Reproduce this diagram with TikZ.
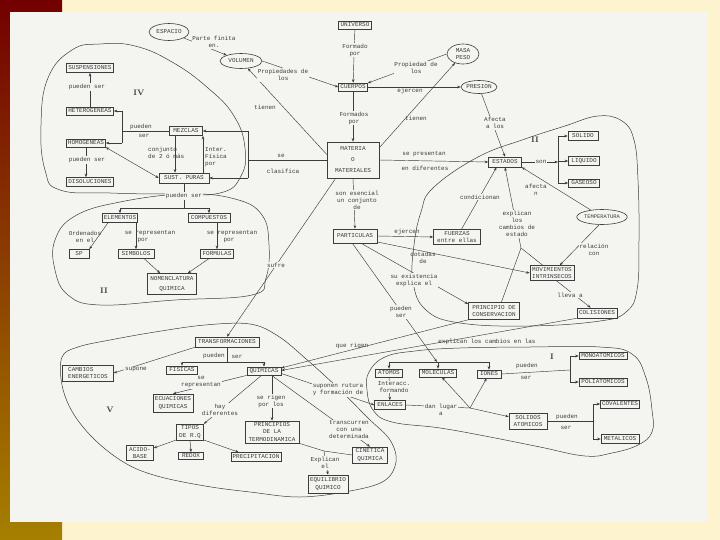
\documentclass[tikz,border=0pt]{standalone}
\usepackage{fontspec}
\setmonofont{Liberation Mono}
\usepackage{tikz}
\usetikzlibrary{shapes.geometric, arrows.meta, calc}

\definecolor{hoja}{HTML}{F4F4F1}
\definecolor{fondo}{HTML}{FDF4CF}
\definecolor{tinta}{HTML}{3C3C3C}

\tikzset{
  caja/.style={draw=tinta, line width=.6pt, fill=hoja, inner sep=1.5pt,
    font=\fontsize{6}{7.5}\selectfont\ttfamily, text=tinta, align=center},
  ovalo/.style={ellipse, draw=tinta, line width=.6pt, fill=hoja, inner sep=0pt,
    font=\fontsize{6}{7.5}\selectfont\ttfamily, text=tinta, align=center},
  rotulo/.style={fill=hoja, inner sep=.8pt, font=\fontsize{6}{7}\selectfont\ttfamily,
    text=tinta, align=center},
  nota/.style={inner sep=0pt, font=\fontsize{6}{7}\selectfont\ttfamily, text=tinta, align=center},
  flecha/.style={draw=tinta, line width=.45pt, -{Stealth[length=3.5pt, width=2.6pt]}},
  doble/.style={draw=tinta, line width=.45pt,
    {Stealth[length=3.5pt, width=2.6pt]}-{Stealth[length=3.5pt, width=2.6pt]}},
  linea/.style={draw=tinta, line width=.45pt},
  zona/.style={draw=tinta, line width=.5pt},
  romano/.style={font=\fontsize{8}{8}\selectfont\bfseries, text=tinta}
}

\begin{document}
\begin{tikzpicture}[x=1pt, y=-1pt]
\useasboundingbox (0,0) rectangle (720,540);
% fondo de la diapositiva y hoja escaneada
\fill[fondo] (0,0) rectangle (720,540);
\shade[top color=red!45!black, middle color=orange!80!red, bottom color=olive!70!orange] (0,0) rectangle (62,540);
\fill[hoja] (10,12) rectangle (708,522);

% zonas
\draw[zona] plot[smooth cycle, tension=.75] coordinates {(72,50) (100,44) (135,46) (172,62) (208,88) (234,116) (245,148) (241,176) (220,193) (170,194) (110,193) (60,190) (45,170) (41,125) (48,78)};
\draw[zona] plot[smooth cycle, tension=.7] coordinates {(55,240) (75,216) (120,202) (185,194) (235,199) (262,215) (269,245) (266,278) (252,295) (175,300) (100,305) (68,295) (55,270)};
\draw[zona] plot[smooth cycle, tension=.7] coordinates {(433,188) (478,157) (525,139) (565,126) (598,116) (622,121) (634,140) (638,180) (639,240) (637,290) (626,312) (600,321) (530,326) (460,323) (426,310) (413,282) (414,245) (421,212)};
\draw[zona] plot[smooth cycle, tension=.6] coordinates {(62,357) (78,347) (110,340) (155,332) (205,325) (250,324) (278,336) (305,358) (338,388) (368,418) (390,440) (396,462) (384,481) (350,491) (300,497) (250,492) (205,486) (157,476) (125,463) (95,440) (73,413) (62,385)};
\draw[zona] plot[smooth cycle, tension=.7] coordinates {(369,372) (385,357) (415,351) (460,348) (530,347) (600,347) (632,354) (646,378) (652,410) (652,432) (638,445) (612,453) (585,456) (540,447) (490,437) (440,428) (392,422) (373,410) (367,390)};

% conceptos
\node[ovalo, minimum width=40pt, minimum height=17pt] (espacio) at (169,32) {ESPACIO};
\node[ovalo, minimum width=42pt, minimum height=15pt] (volumen) at (241,61) {VOLUMEN};
\node[ovalo, minimum width=32pt, minimum height=20pt] (masa) at (463,54) {MASA\\PESO};
\node[ovalo, minimum width=36pt, minimum height=13pt] (presion) at (479,87) {PRESION};
\node[ovalo, minimum width=50pt, minimum height=15pt, font=\fontsize{5.4}{6}\selectfont\ttfamily] (temperatura) at (602,217) {TEMPERATURA};

\node[caja, minimum width=33pt, minimum height=8pt] (universo) at (355,25) {UNIVERSO};
\node[caja, minimum width=29pt, minimum height=8pt] (cuerpos) at (353,87) {CUERPOS};
\node[caja, minimum width=52pt, minimum height=36pt, font=\fontsize{6}{11}\selectfont\ttfamily] (materia) at (353,160) {MATERIA\\O\\MATERIALES};
\node[caja, minimum width=33pt, minimum height=10pt] (estados) at (505,162) {ESTADOS};
\node[caja, minimum width=30pt, minimum height=9pt] (solido) at (583,136) {SOLIDO};
\node[caja, minimum width=31pt, minimum height=9pt] (liquido) at (584,161) {LIQUIDO};
\node[caja, minimum width=31pt, minimum height=8pt] (gaseoso) at (584,183) {GASEOSO};
\node[caja, minimum width=44pt, minimum height=15pt] (movimientos) at (552,273) {MOVIMIENTOS\\INTRINSECOS};
\node[caja, minimum width=40pt, minimum height=10pt] (colisiones) at (597,313) {COLISIONES};
\node[caja, minimum width=51pt, minimum height=17pt] (conservacion) at (494,311) {PRINCIPIO DE\\CONSERVACION};
\node[caja, minimum width=47pt, minimum height=15pt] (fuerzas) at (457,237) {FUERZAS\\entre ellas};
\node[caja, minimum width=44pt, minimum height=14pt] (particulas) at (355,236) {PARTICULAS};

\node[caja, minimum width=47pt, minimum height=9pt] (suspensiones) at (90,68) {SUSPENSIONES};
\node[caja, minimum width=47pt, minimum height=8pt] (heterogeneas) at (90,111) {HETEROGENEAS};
\node[caja, minimum width=39pt, minimum height=8pt] (homogeneas) at (86,143) {HOMOGENEAS};
\node[caja, minimum width=47pt, minimum height=9pt] (disoluciones) at (90,182) {DISOLUCIONES};
\node[caja, minimum width=33pt, minimum height=9pt] (mezclas) at (186,131) {MEZCLAS};
\node[caja, minimum width=50pt, minimum height=10pt] (puras) at (184,178) {SUST. PURAS};

\node[caja, minimum width=35pt, minimum height=9pt] (elementos) at (120,218) {ELEMENTOS};
\node[caja, minimum width=42pt, minimum height=9pt] (compuestos) at (209,218) {COMPUESTOS};
\node[caja, minimum width=20pt, minimum height=9pt] (sp) at (79,254) {SP};
\node[caja, minimum width=36pt, minimum height=9pt] (simbolos) at (136,254) {SIMBOLOS};
\node[caja, minimum width=33pt, minimum height=9pt] (formulas) at (217,254) {FORMULAS};
\node[caja, minimum width=49pt, minimum height=21pt, font=\fontsize{6}{10}\selectfont\ttfamily] (nomenclatura) at (172,284) {NOMENCLATURA\\QUIMICA};

\node[caja, minimum width=64pt, minimum height=10pt] (transformaciones) at (227,342) {TRANSFORMACIONES};
\node[caja, minimum width=51pt, minimum height=16pt, align=left] (energeticos) at (88,373) {CAMBIOS\\ENERGETICOS};
\node[caja, minimum width=31pt, minimum height=8pt] (fisicas) at (182,370) {FISICAS};
\node[caja, minimum width=34pt, minimum height=8pt] (quimicas) at (264,371) {QUIMICAS};
\node[caja, minimum width=40pt, minimum height=18pt] (ecuaciones) at (173,403) {ECUACIONES\\QUIMICAS};
\node[caja, minimum width=27pt, minimum height=14pt] (tipos) at (190,432) {TIPOS\\DE R.Q};
\node[caja, minimum width=27pt, minimum height=14pt] (acidobase) at (140,453) {ACIDO-\\BASE};
\node[caja, minimum width=25pt, minimum height=7pt] (redox) at (191,456) {REDOX};
\node[caja, minimum width=50pt, minimum height=9pt] (precipitacion) at (256,457) {PRECIPITACION};
\node[caja, minimum width=54pt, minimum height=21pt] (termodinamica) at (272,432) {PRINCIPIOS\\DE LA\\TERMODINAMICA};
\node[caja, minimum width=35pt, minimum height=16pt] (cinetica) at (370,455) {CINETICA\\QUIMICA};
\node[caja, minimum width=40pt, minimum height=18pt] (equilibrio) at (328,484) {EQUILIBRIO\\QUIMICO};

\node[caja, minimum width=27pt, minimum height=8pt] (atomos) at (389,373) {ATOMOS};
\node[caja, minimum width=37pt, minimum height=8pt] (moleculas) at (438,373) {MOLECULAS};
\node[caja, minimum width=24pt, minimum height=8pt] (iones) at (489,374) {IONES};
\node[caja, minimum width=31pt, minimum height=9pt] (enlaces) at (390,405) {ENLACES};
\node[caja, minimum width=38pt, minimum height=16pt] (solidosat) at (528,421) {SOLIDOS\\ATOMICOS};
\node[caja, minimum width=48pt, minimum height=7pt] (monoatomicos) at (603,356) {MONOATOMICOS};
\node[caja, minimum width=48pt, minimum height=8pt] (poliatomicos) at (603,382) {POLIATOMICOS};
\node[caja, minimum width=39pt, minimum height=8pt] (covalentes) at (620,404) {COVALENTES};
\node[caja, minimum width=38pt, minimum height=9pt] (metalicos) at (620,439) {METALICOS};

% puntos de reparto
\coordinate (bMat) at (248,160);
\coordinate (bMez) at (122,131);
\coordinate (bPur) at (184,208);
\coordinate (bEst) at (558,162);
\coordinate (bTra) at (227,362);
\coordinate (bPar) at (437,362);
\coordinate (jExp) at (521,248);
\coordinate (jEq) at (324,451);
\coordinate (jEnl) at (470,408);
\coordinate (bIon) at (570,370);
\coordinate (bSol) at (593,421);

% enlaces de arriba
\draw[flecha] (espacio) -- (volumen);
\draw[flecha] (volumen.east) -- (cuerpos.west);
\draw[flecha] (materia.168) -- (volumen);
\draw[flecha] (universo) -- (cuerpos);
\draw[flecha] (masa.west) -- (cuerpos.15);
\draw[flecha] (cuerpos.east) -- (presion.west);
\draw[flecha] (materia.25) -- (masa);
\draw[flecha] (cuerpos) -- (materia);
\draw[flecha] (presion) -- (estados.north);
\draw[flecha] (materia.east) -- (estados.west);
\draw[flecha] (estados.east) -- (bEst);
\draw[linea] (bEst |- solido) -- (bEst |- gaseoso);
\draw[flecha] (bEst |- solido) -- (solido.west);
\draw[flecha] (bEst |- liquido) -- (liquido.west);
\draw[flecha] (bEst |- gaseoso) -- (gaseoso.west);
\draw[flecha] (temperatura) -- (estados.south east);
\draw[flecha] (temperatura.-110) -- (movimientos.45);
\draw[flecha] (fuerzas.60) -- (estados.-148);
\draw[linea] (movimientos.140) -- (jExp);
\draw[linea] (conservacion.50) -- (jExp);
\draw[flecha] (jExp) -- (estados.south);
\draw[flecha] (particulas.east) -- (fuerzas.west);
\draw[flecha] (materia.south) -- (particulas.north);
\draw[flecha] (particulas.-15) -- (movimientos.west);
\draw[flecha] (particulas.-50) -- (conservacion.165);
\draw[flecha] (particulas.-110) -- (bPar);
\draw[linea] (atomos.north |- bPar) -- (iones.north |- bPar);
\draw[flecha] (atomos.north |- bPar) -- (atomos.north);
\draw[flecha] (moleculas.north |- bPar) -- (moleculas.north);
\draw[flecha] (iones.north |- bPar) -- (iones.north);
\draw[flecha] (movimientos.-60) -- (colisiones.140);
\draw[flecha] (colisiones.south west) -- (quimicas.2);
\draw[flecha] (conservacion.south west) -- (quimicas.10);

% mezclas y sustancias
\draw[linea] (materia.west) -- (bMat);
\draw[linea] (bMat |- mezclas) -- (bMat |- puras);
\draw[flecha] (bMat |- mezclas) -- (mezclas.east);
\draw[flecha] (bMat |- puras) -- (puras.east);
\draw[linea] (mezclas.west) -- (bMez);
\draw[linea] (bMez |- heterogeneas) -- (bMez |- homogeneas);
\draw[flecha] (bMez |- heterogeneas) -- (heterogeneas.east);
\draw[flecha] (bMez |- homogeneas) -- (homogeneas.east);
\draw[flecha] (heterogeneas) -- (suspensiones);
\draw[flecha] (homogeneas.south) -- (homogeneas.south |- disoluciones.north);
\draw[flecha] ([xshift=-11pt]mezclas.south) -- ([xshift=-11pt]mezclas.south |- puras.north);
\draw[flecha] ([xshift=17pt]mezclas.south |- puras.north) -- ([xshift=17pt]mezclas.south);
\draw[doble] (puras.west) -- (homogeneas.south east);
\draw[linea] (puras.south) -- (bPur);
\draw[linea] (elementos.north |- bPur) -- (compuestos.north |- bPur);
\draw[flecha] (elementos.north |- bPur) -- (elementos.north);
\draw[flecha] (compuestos.north |- bPur) -- (compuestos.north);
\draw[flecha] ([xshift=6pt]elementos.south west) -- (sp.north east);
\draw[flecha] (elementos.south -| simbolos.north) -- (simbolos.north);
\draw[flecha] (compuestos.south -| formulas.north) -- (formulas.north);
\draw[flecha] (simbolos.-30) -- (nomenclatura);
\draw[flecha] (formulas.-150) -- (nomenclatura);

% transformaciones
\draw[flecha] ([xshift=9pt]materia.south west) -- (transformaciones.north);
\draw[linea] (transformaciones.south) -- (bTra);
\draw[linea] (fisicas.north |- bTra) -- (quimicas.north |- bTra);
\draw[flecha] (fisicas.north |- bTra) -- (fisicas.north);
\draw[flecha] (quimicas.north |- bTra) -- (quimicas.north);
\draw[flecha] (transformaciones.south west) -- (energeticos.east);
\draw[flecha] (quimicas.south west) -- (ecuaciones.north);
\draw[flecha] (quimicas.-120) -- (tipos.north east);
\draw[flecha] (tipos.-150) -- (acidobase.20);
\draw[flecha] (tipos.south) -- (redox.north);
\draw[flecha] (tipos.-30) -- ([xshift=8pt]precipitacion.north west);
\draw[flecha] (quimicas.south -| termodinamica.north) -- (termodinamica.north);
\draw[flecha] (quimicas.-8) -- (enlaces.west);
\draw[flecha] (quimicas.-30) -- (cinetica.north);
\draw[linea] (termodinamica.south east) -- (jEq) -- (cinetica.west);
\draw[flecha] (jEq) -- (equilibrio.north);

% atomos
\draw[flecha] (atomos) -- (enlaces);
\draw[linea] (enlaces.east) -- (jEnl);
\draw[flecha] (jEnl) -- (moleculas);
\draw[flecha] (jEnl) -- (iones);
\draw[flecha] (jEnl) -- (solidosat);
\draw[linea] (iones.east) -- (bIon);
\draw[linea] (bIon |- monoatomicos) -- (bIon |- poliatomicos);
\draw[flecha] (bIon |- monoatomicos) -- (monoatomicos.west);
\draw[flecha] (bIon |- poliatomicos) -- (poliatomicos.west);
\draw[linea] (solidosat.east) -- (bSol);
\draw[linea] (bSol |- covalentes) -- (bSol |- metalicos);
\draw[flecha] (bSol |- covalentes) -- (covalentes.west);
\draw[flecha] (bSol |- metalicos) -- (metalicos.west);

% palabras de enlace
\node[rotulo] (tParte) at (214,42) {Parte finita\\en.};
\node[rotulo] (tPropiedades) at (283,75) {Propiedades de\\los};
\node[nota] (tTienenV) at (265,107) {tienen};
\node[rotulo] (tFormado) at (355,50) {Formado\\por};
\node[rotulo] (tPropiedad) at (416,68) {Propiedad de\\los};
\node[nota] (tEjercenP) at (410,91) {ejercen};
\node[nota] (tTienenM) at (416,118) {tienen};
\node[rotulo] (tFormados) at (354,118) {Formados\\por};
\node[rotulo] (tAfecta) at (495,123) {Afecta\\a los};
\node[nota] (tPresentan) at (424,154) {se presentan};
\node[nota] (tDiferentes) at (425,168) {en diferentes};
\node[rotulo] (tSon) at (541,162) {son};
\node[nota] (tAfectan) at (536,190) {afecta\\n};
\node[rotulo] (tCondicionan) at (480,197) {condicionan};
\node[rotulo] (tExplicanE) at (517,224) {explican\\los\\cambios de\\estado};
\node[rotulo] (tRelacion) at (594,250) {relación\\con};
\node[rotulo] (tLleva) at (570,295) {lleva a};
\node[nota] (tSe) at (281,156) {se};
\node[nota] (tClasifica) at (283,171) {clasifica};
\node[rotulo] (tEsencial) at (357,200) {son esencial\\un conjunto\\de};
\node[nota] (tEjercenF) at (407,232) {ejercen};
\node[nota] (tDotadas) at (423,258) {dotadas\\de};
\node[rotulo] (tExistencia) at (414,280) {su existencia\\explica el};
\node[rotulo] (tPuedenP) at (401,312) {pueden\\ser};
\node[nota] (tCambiosL) at (487,342) {explican los cambios en las};
\node[nota] (tRigen) at (352,346) {que rigen};
\node[rotulo] (tSufre) at (276,265) {sufre};
\node[rotulo] (tPuedenPu) at (184,196) {pueden ser};
\node[nota] (tOrdenados) at (85,237) {Ordenados\\en el};
\node[nota] (tRepS) at (150,233) {se representan};
\node[nota] (tPorS) at (143,241) {por};
\node[nota] (tRepF) at (232,233) {se representan};
\node[nota] (tPorF) at (229,241) {por};
\node[rotulo] (tPuedenH) at (87,87) {pueden ser};
\node[nota] (tPuedenM1) at (141,127) {pueden};
\node[nota] (tPuedenM2) at (144,136) {ser};
\node[nota, anchor=west, align=left] (tConjunto) at (148,153) {conjunto\\de 2 ó más};
\node[nota, anchor=west, align=left] (tInter) at (205,157) {Inter.\\Física\\por};
\node[rotulo] (tPuedenD) at (87,160) {pueden ser};
\node[nota] (tPuedenT1) at (214,356) {pueden};
\node[nota] (tPuedenT2) at (237,357) {ser};
\node[rotulo] (tSupone) at (136,370) {supone};
\node[rotulo] (tRepQ) at (201,382) {se\\representan};
\node[rotulo] (tHay) at (220,410) {hay\\diferentes};
\node[rotulo] (tRigenT) at (271,401) {se rigen\\por los};
\node[rotulo] (tRutura) at (338,390) {suponen rutura\\y formación de};
\node[rotulo] (tTranscurren) at (349,430) {transcurren\\con una\\determinada};
\node[rotulo] (tExplicanEq) at (325,463) {Explican\\el};
\node[rotulo] (tInteracc) at (394,387) {Interacc.\\formando};
\node[rotulo] (tLugar) at (441,410) {dan lugar\\a};
\node[nota] (tPuedenI1) at (527,366) {pueden};
\node[nota] (tPuedenI2) at (526,378) {ser};
\node[nota] (tPuedenS1) at (567,417) {pueden};
\node[nota] (tPuedenS2) at (566,428) {ser};

% numeros de zona
\node[romano] (nIV) at (139,93) {IV};
\node[romano] (nIIa) at (535,140) {II};
\node[romano] (nIIb) at (104,291) {II};
\node[romano] (nV) at (110,410) {V};
\node[romano] (nI) at (552,357) {I};
\end{tikzpicture}
\end{document}
